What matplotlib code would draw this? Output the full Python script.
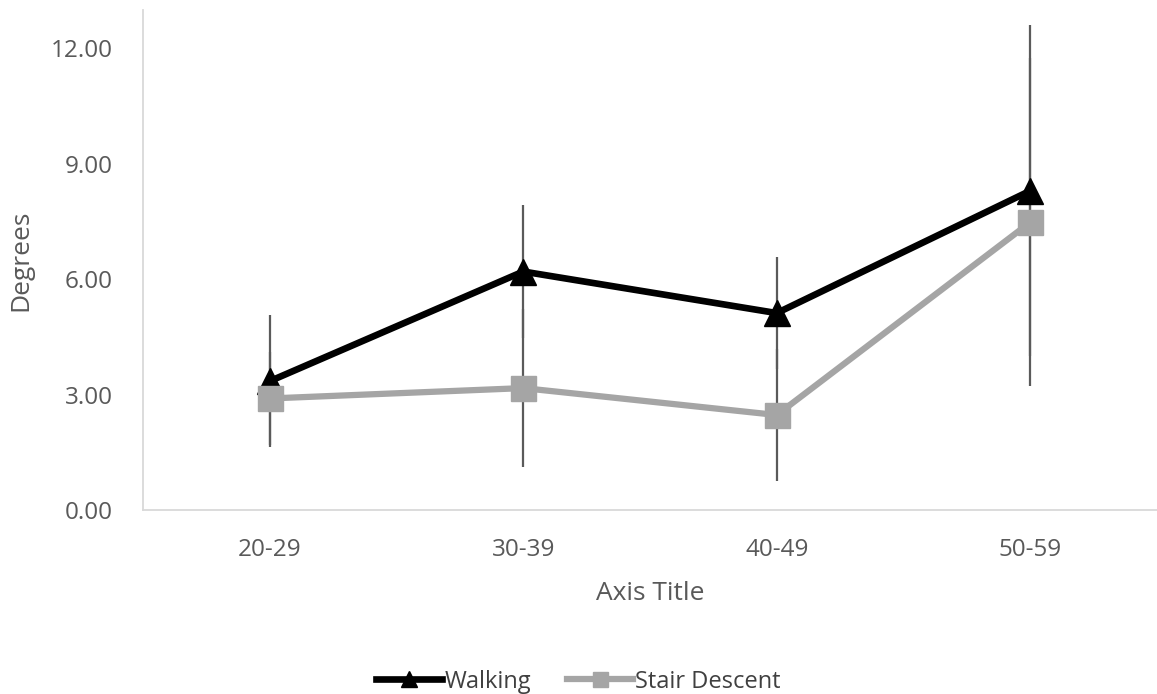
import numpy as np
import matplotlib.pyplot as plt

plt.rcParams['font.family'] = ['Open Sans', 'DejaVu Sans']

groups = ["20-29", "30-39", "40-49", "50-59"]
walking = [3.35, 6.20, 5.12, 8.30]
walking_err = [1.71, 1.72, 1.45, 4.30]
stair = [2.90, 3.17, 2.47, 7.48]
stair_err = [1.21, 2.05, 1.72, 4.26]

x = np.arange(len(groups))

fig = plt.figure(figsize=(11.57, 6.94), dpi=100)
ax = fig.add_axes([0.1236, 0.2651, 0.8764, 0.7205])

# error bars (one side visible per series, like the excel original)
ax.errorbar(x, walking, yerr=walking_err, fmt='none', ecolor='#5a5a5a', elinewidth=1.6, capsize=0, zorder=1)
ax.errorbar(x, stair, yerr=stair_err, fmt='none', ecolor='#5a5a5a', elinewidth=1.6, capsize=0, zorder=1)

ax.plot(x, walking, color='black', lw=4.8, marker='^', ms=19, label='Walking', zorder=3)
ax.plot(x, stair, color='#a5a5a5', lw=4.5, marker='s', ms=18, label='Stair Descent', zorder=4)

ax.set_xlim(-0.5, 3.5)
ax.set_ylim(0, 13)
ax.set_yticks([0, 3, 6, 9, 12])
ax.set_yticklabels([f"{v:.2f}" for v in [0, 3, 6, 9, 12]])
ax.set_xticks(x)
ax.set_xticklabels(groups)

for s in ['top', 'right']:
    ax.spines[s].set_visible(False)
for s in ['left', 'bottom']:
    ax.spines[s].set_color('#d9d9d9')
    ax.spines[s].set_linewidth(1.3)
ax.tick_params(length=0, labelsize=17.5, labelcolor='#595959')
ax.tick_params(axis='y', pad=22)
ax.tick_params(axis='x', pad=20)

ax.set_ylabel("Degrees", fontsize=19, color='#595959', labelpad=12)
ax.set_xlabel("Axis Title", fontsize=19, color='#595959', labelpad=14)

fig.legend(loc='lower center', bbox_to_anchor=(0.5, -0.03), ncol=2, frameon=False,
           fontsize=17, labelcolor='#404040', handlelength=2.8, handletextpad=0.1,
           columnspacing=1.5, markerscale=0.6)

fig.savefig("out.png", dpi=100)
